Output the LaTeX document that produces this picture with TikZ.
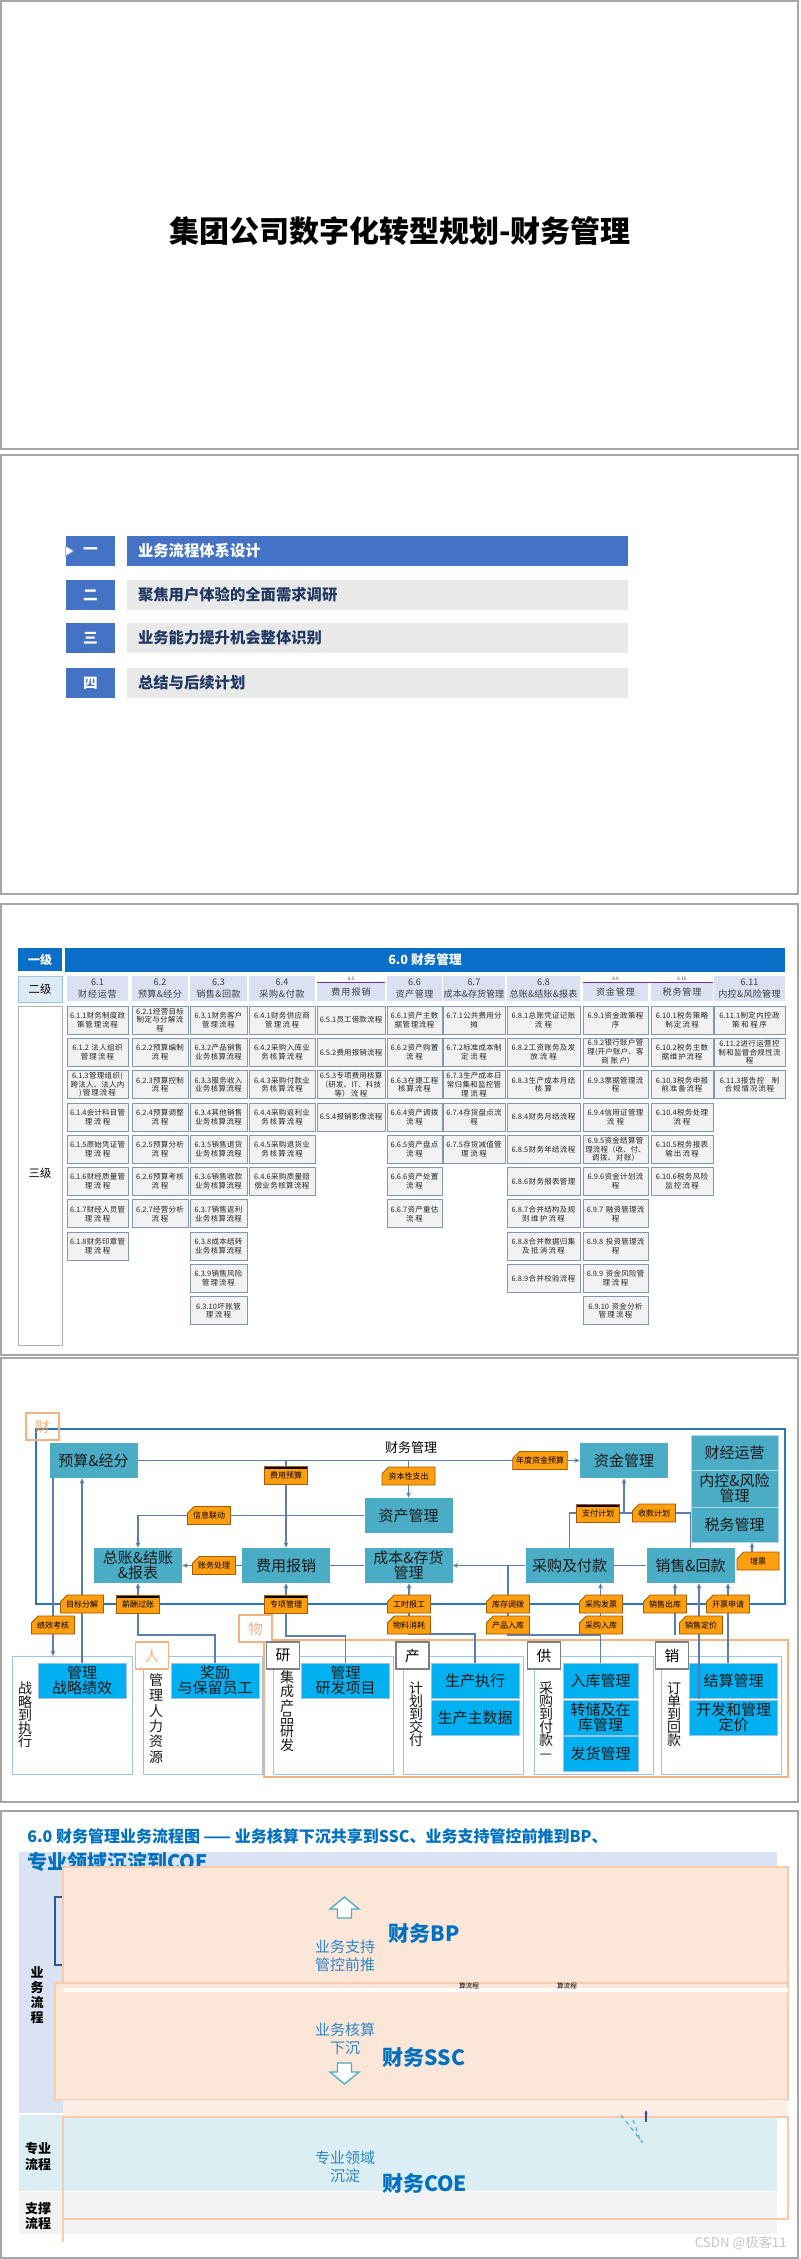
\documentclass[tikz,border=0pt]{standalone}
\usepackage{fontspec}
\setmainfont{Noto Sans CJK SC}
\usepackage{xcolor}
\usetikzlibrary{arrows.meta,positioning,shapes.misc}
\XeTeXlinebreaklocale "zh"
\XeTeXlinebreakskip=0pt plus 1pt

\definecolor{slidegray}{HTML}{A6A6A6}
\definecolor{menublue}{HTML}{4472C4}
\definecolor{menugray}{HTML}{E9E9E9}
\definecolor{menutext}{HTML}{203864}
\definecolor{hdrblue}{HTML}{0A6FC8}
\definecolor{lvltwo}{HTML}{DDEBF7}
\definecolor{headfill}{HTML}{D9E1F2}
\definecolor{headtext}{HTML}{404040}
\definecolor{cellfill}{HTML}{F2F2F2}
\definecolor{cellline}{HTML}{8497B0}
\definecolor{celltext}{HTML}{262626}
\definecolor{purpleline}{HTML}{7030A0}
\definecolor{boxteal}{HTML}{4BACC6}
\definecolor{boxtext}{HTML}{1A1A1A}
\definecolor{sky}{HTML}{00B0F0}
\definecolor{tagorange}{HTML}{FF9E0F}
\definecolor{tagline}{HTML}{A65B00}
\definecolor{flowline}{HTML}{5B7DB1}
\definecolor{framebl}{HTML}{2E75B6}
\definecolor{tagpeach}{HTML}{F4B183}
\definecolor{panelline}{HTML}{9DC3E6}
\definecolor{bgblue}{HTML}{DAE3F3}
\definecolor{bgcyan}{HTML}{DAEEF3}
\definecolor{bggray}{HTML}{F2F2F2}
\definecolor{peach}{HTML}{FCE6D8}
\definecolor{peachline}{HTML}{F8CBAD}
\definecolor{titleblue}{HTML}{0070C0}
\definecolor{softblue}{HTML}{2E86C8}
\definecolor{arrowteal}{HTML}{4BACC6}
\definecolor{remnant}{HTML}{2F5597}

\begin{document}
\begin{tikzpicture}[x=0.75pt, y=-0.75pt, node distance=2.625pt,
  slide/.style={draw=slidegray, line width=1.5pt},
  numbox/.style={fill=menublue, text=white, minimum width=36.75pt, minimum height=22.5pt, inner sep=0pt, font=\fontsize{11}{13}\selectfont\bfseries},
  menubar/.style={fill=menugray, text=menutext, minimum width=375.75pt, minimum height=22.5pt, text width=359.25pt, inner xsep=8.25pt, inner ysep=0pt, align=left, font=\fontsize{11.5}{13}\selectfont\bfseries},
  levelbox/.style={minimum width=33pt, inner sep=0pt, font=\fontsize{8.5}{10}\selectfont},
  colhead/.style={fill=headfill, text=headtext, text width=#1, inner xsep=0.5pt, inner ysep=0pt, minimum height=18.75pt, align=center, font=\fontsize{6.8}{8.8}\selectfont},
  cell/.style={draw=cellline, fill=cellfill, line width=0.6pt, text=celltext, text width=#1, inner xsep=0.5pt, inner ysep=0pt, minimum height=21pt, align=center, font=\fontsize{5.6}{6.6}\selectfont},
  fbox/.style={fill=boxteal, text=boxtext, minimum width=66pt, minimum height=26.25pt, inner sep=0pt, align=center, font=\fontsize{11.25}{11.5}\selectfont},
  sbox/.style={fbox, fill=sky, draw=panelline, line width=0.5pt},
  tagcut/.style={chamfered rectangle, chamfered rectangle corners=north west, chamfered rectangle xsep=2.5pt, chamfered rectangle ysep=2.5pt, draw=tagline, line width=0.6pt, fill=tagorange, minimum width=32.25pt, minimum height=13.5pt, inner sep=0pt, font=\fontsize{6}{7}\selectfont},
  tagbar/.style={rectangle, draw=tagline, line width=0.6pt, fill=tagorange, minimum width=32.25pt, minimum height=13.5pt, inner sep=0pt, font=\fontsize{6}{7}\selectfont,
    path picture={\fill[black] (path picture bounding box.north west) rectangle ([yshift=-2pt]path picture bounding box.north east);}},
  line/.style={draw=flowline, line width=0.8pt},
  flow/.style={line, -{Stealth[length=4pt, width=3.5pt]}},
  wordtag/.style={draw=tagpeach, line width=0.9pt, text=tagpeach, minimum width=24.75pt, minimum height=20.25pt, inner sep=0pt, font=\fontsize{11}{13}\selectfont},
  grouptag/.style={wordtag, draw=gray, fill=white, text=black},
  panel/.style={draw=panelline, line width=0.7pt, minimum height=88.5pt, inner sep=0pt},
  vtext/.style={align=center, inner sep=0pt, text=boxtext, font=\fontsize{10.5}{#1}\selectfont},
  bluenote/.style={align=center, inner sep=0pt, text=softblue, font=\fontsize{11.25}{13.5}\selectfont},
  bigblue/.style={inner sep=0pt, text=titleblue, font=\fontsize{15.75}{17}\selectfont\bfseries},
  sidelabel/.style={align=center, inner sep=0pt, text=black, font=\fontsize{9.75}{#1}\selectfont\bfseries},
  blockarrow/.style={draw=arrowteal, fill=white, line width=1pt, line join=miter}
]
\useasboundingbox (0,0) rectangle (800,2259);
\fill[white] (0,0) rectangle (800,2259);

\draw[slide] (1,1) rectangle (798,449);
\draw[slide] (1,455) rectangle (798,894);
\draw[slide] (1,904) rectangle (798,1355);
\draw[slide] (1,1358) rectangle (798,1802);
\draw[slide] (1,1811) rectangle (798,2258);

\node[font=\fontsize{22.5}{26}\selectfont\bfseries] (cover) at (400,231) {集团公司数字化转型规划-财务管理};

\node[numbox] (n1) at (90.5,551) {一};
\node[menubar, fill=menublue, text=white] (m1) at (377.5,551) {业务流程体系设计};
\node[numbox] (n2) at (90.5,595) {二};
\node[menubar] (m2) at (377.5,595) {聚焦用户体验的全面需求调研};
\node[numbox] (n3) at (90.5,638) {三};
\node[menubar] (m3) at (377.5,638) {业务能力提升机会整体识别};
\node[numbox] (n4) at (90.5,683) {四};
\node[menubar] (m4) at (377.5,683) {总结与后续计划};
\draw[fill=white, draw=menublue!70, line width=0.6pt] (n1.west) ++(0,-5) -- ++(8,5) -- ++(-8,5) -- cycle;

\node[levelbox, fill=hdrblue, text=white, minimum height=17.25pt, font=\fontsize{9}{10}\selectfont\bfseries] (lv1) at (40,959.5) {一级};
\node[fill=hdrblue, minimum width=540pt, minimum height=18pt, inner sep=0pt, text=white, font=\fontsize{9.5}{11}\selectfont\bfseries] (lv1bar) at (425,960) {6.0 财务管理};
\node[levelbox, fill=lvltwo, draw=panelline, minimum height=19.5pt] (lv2) at (40,989) {二级};
\node[levelbox, draw=gray!60, minimum height=254.25pt] (lv3) at (40,1175.5) {};
\node[font=\fontsize{8.5}{10}\selectfont] (lv3t) at (40,1173) {三级};

\node[colhead=44.75pt] (h1) at (97.5,988.5) {6.1\\财经运营};
\node[colhead=41pt] (h2) at (160,988.5) {6.2\\预算\&经分};
\node[colhead=41.75pt] (h3) at (218.5,988.5) {6.3\\销售\&回款};
\node[colhead=48.5pt] (h4) at (282,988.5) {6.4\\采购\&付款};
\node[colhead=50pt, minimum height=13.5pt] (h5) at (351,992) {费用报销};
\node[colhead=40.25pt] (h6) at (414.5,988.5) {6.6\\资产管理};
\node[colhead=45.5pt] (h7) at (474,988.5) {6.7\\成本\&存货管理};
\node[colhead=53.75pt] (h8) at (543.5,988.5) {6.8\\总账\&结账\&报表};
\node[colhead=47.75pt, minimum height=13.5pt] (h9) at (615.5,992) {资金管理};
\node[colhead=45.5pt, minimum height=13.5pt] (h10) at (682,992) {税务管理};
\node[colhead=52.25pt] (h11) at (749.5,988.5) {6.11\\内控\&风险管理};
\draw[purpleline, line width=0.6pt] (h5.north west) -- (h5.north east);
\draw[purpleline, line width=0.6pt] (h9.north west) -- (h10.north east);
\node[text=headtext, font=\fontsize{3.5}{4}\selectfont, inner sep=0pt] (h5n) at (351,979) {6.5};
\node[text=headtext, font=\fontsize{3.5}{4}\selectfont, inner sep=0pt] (h9n) at (615.5,979) {6.9};
\node[text=headtext, font=\fontsize{3.5}{4}\selectfont, inner sep=0pt] (h10n) at (682,979) {6.10};

\node[cell=44.75pt] (a1) at (97.5,1020) {6.1.1财务制度政\\策管理流程};
\node[cell=44.75pt, below=of a1] (a2) {6.1.2 法人组织\\管理流程};
\node[cell=44.75pt, below=of a2] (a3) {6.1.3管理组织(\\跨法人、法人内\\)管理流程};
\node[cell=44.75pt, below=of a3] (a4) {6.1.4会计科目管\\理流程};
\node[cell=44.75pt, below=of a4] (a5) {6.1.5原始凭证管\\理流程};
\node[cell=44.75pt, below=of a5] (a6) {6.1.6财经质量管\\理流程};
\node[cell=44.75pt, below=of a6] (a7) {6.1.7财经人员管\\理流程};
\node[cell=44.75pt, below=of a7] (a8) {6.1.8财务印章管\\理流程};

\node[cell=41pt] (b1) at (160,1020) {6.2.1经营目标\\制定与分解流\\程};
\node[cell=41pt, below=of b1] (b2) {6.2.2预算编制\\流程};
\node[cell=41pt, below=of b2] (b3) {6.2.3预算控制\\流程};
\node[cell=41pt, below=of b3] (b4) {6.2.4预算调整\\流程};
\node[cell=41pt, below=of b4] (b5) {6.2.5预算分析\\流程};
\node[cell=41pt, below=of b5] (b6) {6.2.6预算考核\\流程};
\node[cell=41pt, below=of b6] (b7) {6.2.7经营分析\\流程};

\node[cell=41.75pt] (c1) at (218.5,1020) {6.3.1财务客户\\管理流程};
\node[cell=41.75pt, below=of c1] (c2) {6.3.2产品销售\\业务核算流程};
\node[cell=41.75pt, below=of c2] (c3) {6.3.3服务收入\\业务核算流程};
\node[cell=41.75pt, below=of c3] (c4) {6.3.4其他销售\\业务核算流程};
\node[cell=41.75pt, below=of c4] (c5) {6.3.5销售退货\\业务核算流程};
\node[cell=41.75pt, below=of c5] (c6) {6.3.6销售收款\\业务核算流程};
\node[cell=41.75pt, below=of c6] (c7) {6.3.7销售返利\\业务核算流程};
\node[cell=41.75pt, below=of c7] (c8) {6.3.8成本结转\\业务核算流程};
\node[cell=41.75pt, below=of c8] (c9) {6.3.9销售风险\\管理流程};
\node[cell=41.75pt, below=of c9] (c10) {6.3.10坏账管\\理流程};

\node[cell=48.5pt] (d1) at (282,1020) {6.4.1财务供应商\\管理流程};
\node[cell=48.5pt, below=of d1] (d2) {6.4.2采购入库业\\务核算流程};
\node[cell=48.5pt, below=of d2] (d3) {6.4.3采购付款业\\务核算流程};
\node[cell=48.5pt, below=of d3] (d4) {6.4.4采购返利业\\务核算流程};
\node[cell=48.5pt, below=of d4] (d5) {6.4.5采购退货业\\务核算流程};
\node[cell=48.5pt, below=of d5] (d6) {6.4.6采购质量赔\\偿业务核算流程};

\node[cell=50pt] (e1) at (351,1020) {6.5.1员工借款流程};
\node[cell=50pt, below=of e1] (e2) {6.5.2费用报销流程};
\node[cell=50pt, below=of e2] (e3) {6.5.3专项费用核算\\（研发、IT、科技\\等）流程};
\node[cell=50pt, below=of e3] (e4) {6.5.4报销影像流程};

\node[cell=40.25pt] (f1) at (414.5,1020) {6.6.1资产主数\\据管理流程};
\node[cell=40.25pt, below=of f1] (f2) {6.6.2资产购置\\流程};
\node[cell=40.25pt, below=of f2] (f3) {6.6.3在建工程\\核算流程};
\node[cell=40.25pt, below=of f3] (f4) {6.6.4资产调拨\\流程};
\node[cell=40.25pt, below=of f4] (f5) {6.6.5资产盘点\\流程};
\node[cell=40.25pt, below=of f5] (f6) {6.6.6资产处置\\流程};
\node[cell=40.25pt, below=of f6] (f7) {6.6.7资产重估\\流程};

\node[cell=45.5pt] (g1) at (474,1020) {6.7.1公共费用分\\摊};
\node[cell=45.5pt, below=of g1] (g2) {6.7.2标准成本制\\定流程};
\node[cell=45.5pt, below=of g2] (g3) {6.7.3生产成本日\\常归集和监控管\\理流程};
\node[cell=45.5pt, below=of g3] (g4) {6.7.4存货盘点流\\程};
\node[cell=45.5pt, below=of g4] (g5) {6.7.5存货减值管\\理流程};

\node[cell=53.75pt] (i1) at (543.5,1020) {6.8.1总账凭证记账\\流程};
\node[cell=53.75pt, below=of i1] (i2) {6.8.2工资账务及发\\放流程};
\node[cell=53.75pt, below=of i2] (i3) {6.8.3生产成本月结\\核算};
\node[cell=53.75pt, below=of i3] (i4) {6.8.4财务月结流程};
\node[cell=53.75pt, below=of i4] (i5) {6.8.5财务年结流程};
\node[cell=53.75pt, below=of i5] (i6) {6.8.6财务报表管理};
\node[cell=53.75pt, below=of i6] (i7) {6.8.7合并结构及规\\则维护流程};
\node[cell=53.75pt, below=of i7] (i8) {6.8.8合并数据归集\\及抵消流程};
\node[cell=53.75pt, below=of i8] (i9) {6.8.9合并校验流程};

\node[cell=47.75pt] (j1) at (615.5,1020) {6.9.1资金政策程\\序};
\node[cell=47.75pt, below=of j1] (j2) {6.9.2银行账户管\\理(开户账户、客\\商账户)};
\node[cell=47.75pt, below=of j2] (j3) {6.9.3票据管理流\\程};
\node[cell=47.75pt, below=of j3] (j4) {6.9.4信用证管理\\流程};
\node[cell=47.75pt, below=of j4] (j5) {6.9.5资金结算管\\理流程（收、付、\\调拨、对账）};
\node[cell=47.75pt, below=of j5] (j6) {6.9.6资金计划流\\程};
\node[cell=47.75pt, below=of j6] (j7) {6.9.7 融资管理流\\程};
\node[cell=47.75pt, below=of j7] (j8) {6.9.8 投资管理流\\程};
\node[cell=47.75pt, below=of j8] (j9) {6.9.9 资金风险管\\理流程};
\node[cell=47.75pt, below=of j9] (j10) {6.9.10 资金分析\\管理流程};

\node[cell=45.5pt] (k1) at (682,1020) {6.10.1税务策略\\制定流程};
\node[cell=45.5pt, below=of k1] (k2) {6.10.2税务主数\\据维护流程};
\node[cell=45.5pt, below=of k2] (k3) {6.10.3税务申报\\前准备流程};
\node[cell=45.5pt, below=of k3] (k4) {6.10.4税务处理\\流程};
\node[cell=45.5pt, below=of k4] (k5) {6.10.5税务报表\\输出流程};
\node[cell=45.5pt, below=of k5] (k6) {6.10.6税务风险\\监控流程};

\node[cell=52.25pt] (l1) at (749.5,1020) {6.11.1制定内控政\\策和程序};
\node[cell=52.25pt, below=of l1] (l2) {6.11.2进行运营控\\制和监督合规性流\\程};
\node[cell=52.25pt, below=of l2] (l3) {6.11.3报告控\quad 制\\合规情况流程};

\node[draw=framebl, line width=1.2pt, minimum width=561.75pt, minimum height=131.25pt, inner sep=0pt] (cwframe) at (410.5,1516.5) {};
\node[wordtag] (cai) at (42.5,1426.5) {财};
\node[inner sep=0pt, font=\fontsize{9.75}{11}\selectfont] (cwgl) at (411,1448) {财务管理};

\node[fbox] (ys) at (93.5,1460.5) {预算\&经分};
\node[fbox] (zj) at (624,1460.5) {资金管理};
\node[fbox] (zc) at (408.5,1515.5) {资产管理};
\node[fbox] (zz) at (138,1565.5) {总账\&结账\\\&报表};
\node[fbox] (fy) at (286,1565.5) {费用报销};
\node[fbox] (cb) at (408.5,1565.5) {成本\&存货\\管理};
\node[fbox] (cg) at (569.5,1565.5) {采购及付款};
\node[fbox] (xs) at (690.5,1565.5) {销售\&回款};
\node[fbox, draw=white!55!boxteal, line width=0.6pt, minimum width=65.25pt] (cj) at (734.5,1452.5) {财经运营};
\node[fbox, draw=white!55!boxteal, line width=0.6pt, minimum width=65.25pt, minimum height=27.75pt] (nk) at (734.5,1488.5) {内控\&风险\\管理};
\node[fbox, draw=white!55!boxteal, line width=0.6pt, minimum width=65.25pt] (sw) at (734.5,1524.5) {税务管理};

\draw[tagpeach, line width=0.9pt] (264,1640) rectangle (788,1777);
\node[panel, minimum width=90pt] (zlp) at (72,1715) {};
\node[panel, minimum width=89.25pt] (rlp) at (202.5,1715) {};
\node[panel, minimum width=90pt] (yfp) at (333,1715) {};
\node[panel, minimum width=90pt] (jhp) at (463,1715) {};
\node[panel, minimum width=89.25pt] (gyp) at (593.5,1715) {};
\node[panel, minimum width=90pt] (xsp) at (721,1715) {};
\node[wordtag, fill=white] (ren) at (152,1655.5) {人};
\node[wordtag, fill=white] (wu) at (255.5,1628.5) {物};
\node[grouptag] (yan) at (283,1655.5) {研};
\node[grouptag] (chan) at (412.5,1655.5) {产};
\node[grouptag] (gong) at (544,1655.5) {供};
\node[grouptag] (xiao) at (672,1655.5) {销};

\node[vtext=9.9pt] (zlt) at (25,1715) {战\\略\\到\\执\\行};
\node[vtext=11.5pt] (rlt) at (156,1718.5) {管\\理\\人\\力\\资\\源};
\node[vtext=9.5pt] (yft) at (287,1711.5) {集\\成\\产\\品\\研\\发};
\node[vtext=9.75pt] (jht) at (416,1714) {计\\划\\到\\交\\付};
\node[vtext=9.75pt] (gyt) at (546,1720) {采\\购\\到\\付\\款\\—};
\node[vtext=9.75pt] (xst) at (674,1714) {订\\单\\到\\回\\款};

\node[sbox] (glzl) at (82,1680.5) {管理\\战略绩效};
\node[sbox] (jl) at (215,1680.5) {奖励\\与保留员工};
\node[sbox] (yfxm) at (345.5,1680.5) {管理\\研发项目};
\node[sbox] (sczx) at (475,1680.5) {生产执行};
\node[sbox] (sczsj) at (475,1717.5) {生产主数据};
\node[sbox, minimum width=56.25pt] (rkgl) at (600.5,1680.5) {入库管理};
\node[sbox, minimum width=56.25pt] (zcgl) at (600.5,1717.5) {转储及在\\库管理};
\node[sbox, minimum width=56.25pt] (fhgl) at (600.5,1753.5) {发货管理};
\node[sbox] (jsgl) at (733.5,1680.5) {结算管理};
\node[sbox] (kfdj) at (733.5,1717.5) {开发和管理\\定价};

\draw[flow] (ys.east) -| (fy.north);
\draw[flow] (ys.east) -- (zj.west);
\draw[flow] (ys.east -| zc.north) -- (zc.north);
\draw[flow] (zc.west) -| (zz.north);
\draw[flow] (fy.west) -- (zz.east);
\draw[line] (fy.east) -- (cb.west);
\draw[flow] (cg.west) -- (cb.east);
\draw[line] (cg.east) -- (xs.west);
\coordinate (pj) at (624,1513);
\draw[line] (cg.north) |- (pj);
\draw[line] (xs.north) |- (pj);
\draw[flow] (pj) -- (zj.south);
\coordinate (zpup) at (752,1552);
\draw[flow] (zpup) -- (zpup |- sw.south);
\coordinate (jxdown) at (53,1656);
\draw[flow] (ys.south -| jxdown) -- (jxdown);
\draw[flow] (glzl.north) -- (glzl.north |- ys.south);
\coordinate (hr) at (138,1635);
\draw[flow] (jl.north) |- (hr) -- (hr |- zz.south);
\coordinate (rd) at (286,1636);
\draw[flow] (yfxm.north) |- (rd) -- (rd |- fy.south);
\coordinate (mk) at (409,1634);
\draw[flow] (sczx.north) |- (mk) -- (mk |- cb.south);
\draw[flow] (rkgl.north) -- (rkgl.north |- cg.south);
\coordinate (st) at (508,1635);
\draw[line] (rkgl.north |- st) -- (st) -- (st |- cg.west);
\coordinate (so) at (675,1635);
\draw[flow] (so) -- (so |- xs.south);
\coordinate (pr) at (699,1699);
\draw[flow] (pr) -- (pr |- xs.south);
\coordinate (iv) at (728,1663);
\draw[flow] (iv) -- (iv |- xs.south);

\node[tagbar] (fyys) at (286,1475) {费用预算};
\node[tagcut, minimum width=39.75pt] (zbzc) at (408.5,1476) {资本性支出};
\node[tagcut, minimum width=40.5pt] (ndzj) at (540,1460.5) {年度资金预算};
\node[tagcut] (xxld) at (209,1515.5) {信息联动};
\node[tagcut] (zwcl) at (214,1565.5) {账务处理};
\node[tagbar] (zfjh) at (598,1513) {支付计划};
\node[tagcut] (skjh) at (654,1513) {收款计划};
\node[tagcut, minimum width=31.5pt] (zp) at (758,1561) {增票};
\node[tagcut] (mbfj) at (82,1604) {目标分解};
\node[tagcut] (jxkh) at (53,1625) {绩效考核};
\node[tagbar] (xcgz) at (138,1604) {薪酬过账};
\node[tagbar] (zxgl) at (286,1604) {专项管理};
\node[tagcut] (gsbg) at (409,1604) {工时报工};
\node[tagcut] (wlxh) at (409,1625) {物料消耗};
\node[tagcut] (kcdb) at (508,1604) {库存调拨};
\node[tagcut] (cprk) at (508,1625) {产品入库};
\node[tagcut] (cgfp) at (601,1604) {采购发票};
\node[tagcut] (cgrk) at (601,1625) {采购入库};
\node[tagcut] (xsck) at (665,1604) {销售出库};
\node[tagcut] (xsdj) at (701,1625) {销售定价};
\node[tagcut] (kpsq) at (728,1604) {开票申请};

\node[anchor=west, inner sep=0pt, text=titleblue, font=\fontsize{12}{14}\selectfont\bfseries] (t5a) at (27,1836) {6.0 财务管理业务流程图 —— 业务核算下沉共享到SSC、业务支持管控前推到BP、};
\fill[bgblue] (19,1852) rectangle (777,2113);
\fill[bgcyan] (19,2115) rectangle (777,2191);
\fill[bggray] (19,2192) rectangle (777,2234);
\node[anchor=west, inner sep=0pt, text=titleblue, font=\fontsize{15}{17}\selectfont\bfseries] (t5b) at (27,1862) {专业领域沉淀到COE};
\draw[remnant, line width=0.8pt] (63,1897) -- (55,1897) -- (55,1965) -- (63,1965);
\draw[peachline, fill=peach, line width=1pt] (63,1867) rectangle (788,1983);
\draw[peachline, fill=peach, line width=1pt] (55,1983) rectangle (788,2100);
\fill[peach!70] (63,2100) rectangle (788,2117);
\fill[white] (63,1988) rectangle (788,1992);
\node[inner sep=0pt, font=\fontsize{5}{6}\selectfont] (rm1) at (469,1986) {算流程};
\node[inner sep=0pt, font=\fontsize{5}{6}\selectfont] (rm2) at (567,1986) {算流程};
\draw[peachline, line width=1pt] (63,2117) rectangle (788,2219);
\draw[peachline, line width=1pt] (63,2219) -- (63,2242);

\node[sidelabel=11.25pt] (ywlc) at (37,1995.5) {业\\务\\流\\程};
\node[sidelabel=12pt] (zylc) at (38,2156) {专业\\流程};
\node[sidelabel=11pt] (zclc) at (38,2216) {支撑\\流程};

\draw[blockarrow] (344.5,1897) -- (359,1909) -- (351.5,1909) -- (351.5,1918) -- (337.5,1918) -- (337.5,1909) -- (330,1909) -- cycle;
\node[bluenote] (bpnote) at (345,1956) {业务支持\\管控前推};
\node[bigblue] (bp) at (424.5,1933) {财务BP};
\node[bluenote] (sscnote) at (345,2039) {业务核算\\下沉};
\node[bigblue] (ssc) at (424,2057) {财务SSC};
\draw[blockarrow] (344.5,2084) -- (359,2072) -- (351.5,2072) -- (351.5,2063) -- (337.5,2063) -- (337.5,2072) -- (330,2072) -- cycle;
\node[bluenote] (coenote) at (345,2166.5) {专业领域\\沉淀};
\node[bigblue] (coe) at (424.5,2183) {财务COE};
\draw[arrowteal, dashed, line width=0.8pt] (621,2115) -- (643,2143);
\draw[arrowteal, dashed, line width=0.8pt] (633,2120) -- (641,2142);
\draw[remnant, line width=0.8pt, -{Stealth[length=3pt, width=2.5pt]}] (646,2122) -- (646,2110);
\node[anchor=east, inner sep=0pt, text=gray!45, font=\fontsize{10}{12}\selectfont] (wm) at (787,2243) {CSDN @极客11};
\end{tikzpicture}
\end{document}
